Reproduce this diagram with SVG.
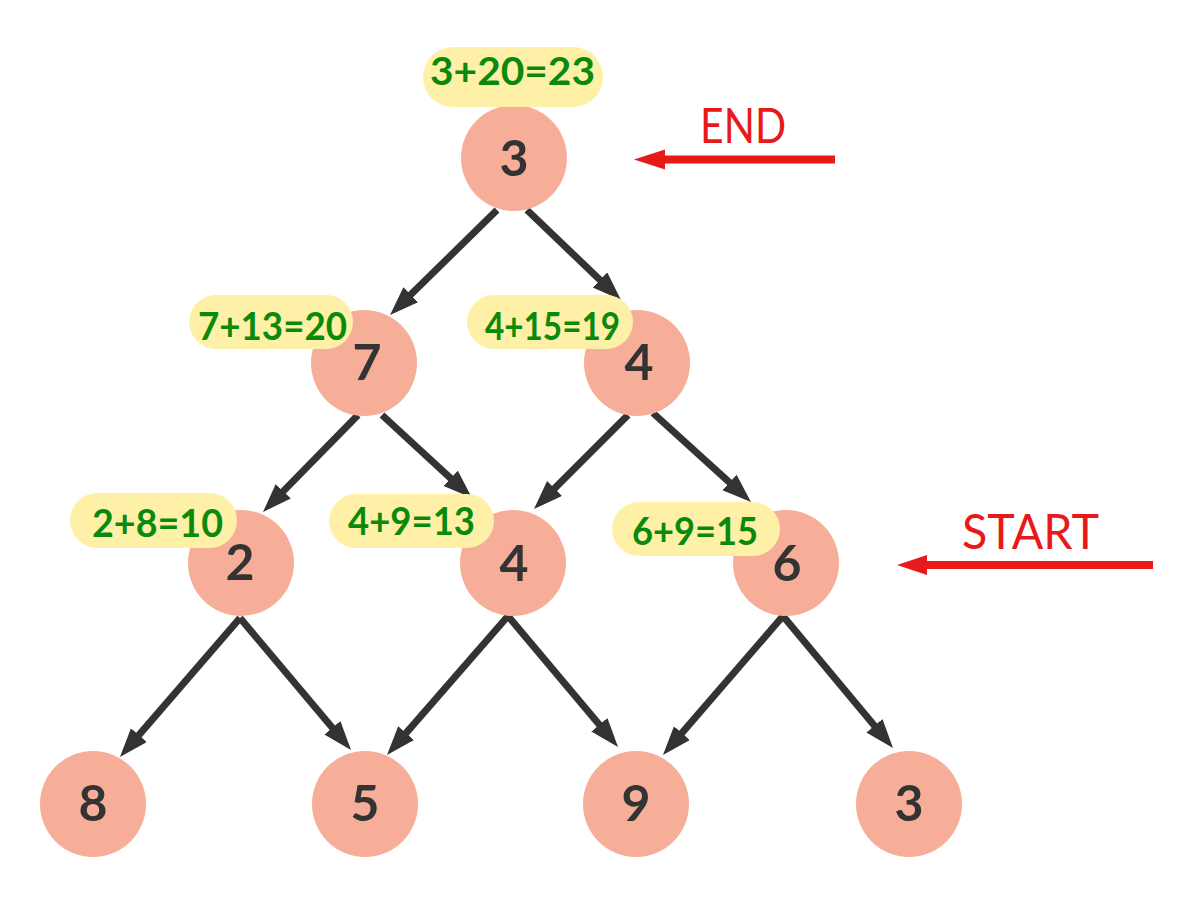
<svg xmlns="http://www.w3.org/2000/svg" width="1198" height="898" viewBox="0 0 1198 898">
<style>
.n{fill:#F7AE98}
.p{fill:#FFF0A8}
.d{font-family:Lato,"Open Sans",sans-serif;font-weight:bold;font-size:50px;fill:#333333;text-anchor:middle}
.l{font-family:Lato,"Open Sans",sans-serif;font-weight:bold;font-size:38px;fill:#0A8A0A}
.e{stroke:#333333;stroke-width:7;fill:none;marker-end:url(#ah)}
.r{font-family:Lato,"Open Sans",sans-serif;font-size:48px;fill:#E8191A}
</style>
<defs>
<marker id="ah" markerUnits="userSpaceOnUse" markerWidth="30" markerHeight="22" refX="17" refY="10.5" orient="auto">
<path d="M0,0 L29,10.5 L0,21 Z" fill="#333333"/>
</marker>
</defs>
<rect width="1198" height="898" fill="#FFFFFF"/>
<g id="connectors">
<line class="e" x1="497" y1="210" x2="398.6" y2="306.6"/>
<line class="e" x1="527" y1="210" x2="612.3" y2="291.7"/>
<line class="e" x1="358" y1="415" x2="271.4" y2="503.4"/>
<line class="e" x1="382" y1="415" x2="463.2" y2="489.9"/>
<line class="e" x1="628" y1="415" x2="542.5" y2="500.5"/>
<line class="e" x1="653" y1="413" x2="742.1" y2="493.9"/>
<line class="e" x1="240" y1="618" x2="127.8" y2="747.9"/>
<line class="e" x1="240" y1="618" x2="343.3" y2="740.8"/>
<line class="e" x1="508" y1="616" x2="394.9" y2="745.9"/>
<line class="e" x1="508" y1="616" x2="610.3" y2="737.8"/>
<line class="e" x1="783" y1="616" x2="670.8" y2="745.9"/>
<line class="e" x1="783" y1="616" x2="885.3" y2="738.8"/>
</g>
<g id="node-top">
<circle class="n" cx="514" cy="158" r="53"/>
<rect class="p" x="423" y="47" width="180" height="60" rx="30"/>
<text class="l" x="430" y="85" textLength="165" lengthAdjust="spacingAndGlyphs">3+20=23</text>
<text class="d" x="514" y="176">3</text>
</g>
<g id="node-r2a">
<circle class="n" cx="364" cy="363" r="53"/>
<rect class="p" x="189" y="295" width="164" height="54" rx="27"/>
<text class="l" x="198" y="340" textLength="149" lengthAdjust="spacingAndGlyphs">7+13=20</text>
<text class="d" x="367" y="380">7</text>
</g>
<g id="node-r2b">
<circle class="n" cx="637" cy="363" r="53"/>
<rect class="p" x="467" y="295" width="166" height="54" rx="27"/>
<text class="l" x="485" y="340" textLength="135" lengthAdjust="spacingAndGlyphs">4+15=19</text>
<text class="d" x="639" y="380">4</text>
</g>
<g id="node-r3a">
<circle class="n" cx="241" cy="563" r="53"/>
<rect class="p" x="70" y="493" width="167" height="55" rx="27.5"/>
<text class="l" x="92" y="537" textLength="131" lengthAdjust="spacingAndGlyphs">2+8=10</text>
<text class="d" x="240" y="580">2</text>
</g>
<g id="node-r3b">
<circle class="n" cx="513" cy="563" r="53"/>
<rect class="p" x="329" y="494" width="165" height="54" rx="27"/>
<text class="l" x="348" y="535" textLength="127" lengthAdjust="spacingAndGlyphs">4+9=13</text>
<text class="d" x="514" y="581">4</text>
</g>
<g id="node-r3c">
<circle class="n" cx="786" cy="563" r="53"/>
<rect class="p" x="612" y="502" width="168" height="54" rx="27"/>
<text class="l" x="632" y="545" textLength="126" lengthAdjust="spacingAndGlyphs">6+9=15</text>
<text class="d" x="787" y="581">6</text>
</g>
<g id="node-r4a">
<circle class="n" cx="93" cy="804" r="53"/>
<text class="d" x="93" y="821">8</text>
</g>
<g id="node-r4b">
<circle class="n" cx="365" cy="804" r="53"/>
<text class="d" x="365" y="821">5</text>
</g>
<g id="node-r4c">
<circle class="n" cx="636" cy="804" r="53"/>
<text class="d" x="636" y="821">9</text>
</g>
<g id="node-r4d">
<circle class="n" cx="909" cy="804" r="53"/>
<text class="d" x="909" y="821">3</text>
</g>
<g id="end-label">
<text class="r" x="700" y="143" textLength="86" lengthAdjust="spacingAndGlyphs">END</text>
<line x1="835" y1="159.5" x2="660" y2="159.5" stroke="#E8191A" stroke-width="8"/>
<polygon points="634,159.5 665,149.5 665,169.5" fill="#E8191A"/>
</g>
<g id="start-label">
<text class="r" x="962" y="549" textLength="137" lengthAdjust="spacingAndGlyphs">START</text>
<line x1="1153" y1="565" x2="922" y2="565" stroke="#E8191A" stroke-width="8"/>
<polygon points="897,565 927,555 927,575" fill="#E8191A"/>
</g>
</svg>
